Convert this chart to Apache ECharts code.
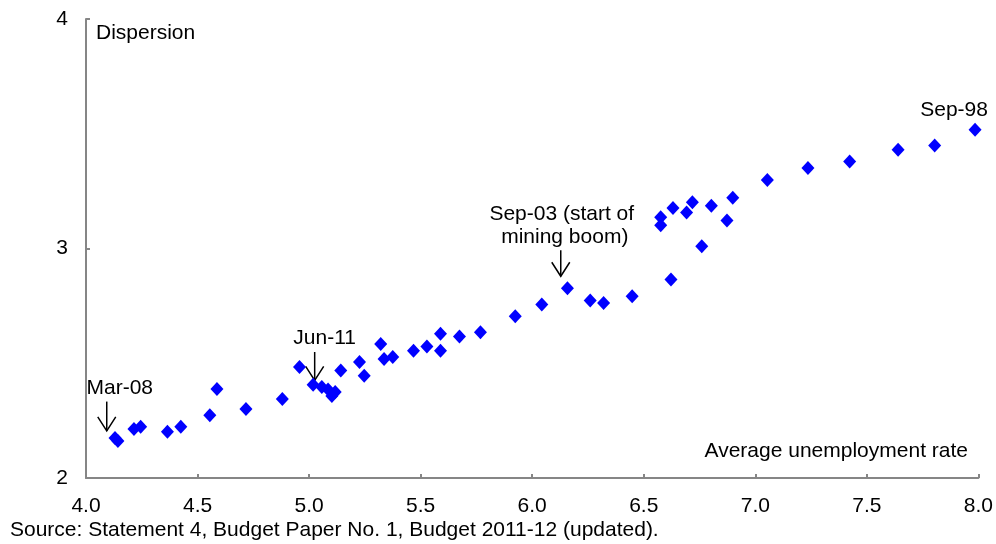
<!DOCTYPE html>
<html>
<head>
<meta charset="utf-8">
<script src="https://cdn.jsdelivr.net/npm/echarts@6/dist/echarts.min.js"></script>
<style>
html,body{margin:0;padding:0;background:#fff;}
#chart{width:996px;height:544px;}
</style>
</head>
<body>
<div id="chart"></div>
<script>
// Average unemployment rate (x) vs dispersion (y)
var unemployment = [4.130,4.143,4.215,4.245,4.365,4.425,4.555,4.587,4.717,4.880,
  4.957,5.018,5.057,5.085,5.102,5.117,5.142,5.226,5.247,5.321,
  5.336,5.375,5.468,5.528,5.589,5.589,5.674,5.768,5.924,6.043,
  6.158,6.260,6.320,6.448,6.622,6.576,6.576,6.631,6.692,6.718,
  6.760,6.803,6.873,6.899,7.054,7.236,7.423,7.640,7.804,7.985];
var dispersion = [2.174,2.161,2.213,2.223,2.201,2.223,2.273,2.388,2.301,2.344,
  2.484,2.406,2.397,2.386,2.357,2.375,2.468,2.505,2.446,2.584,
  2.518,2.527,2.554,2.573,2.628,2.554,2.617,2.635,2.705,2.756,
  2.827,2.773,2.763,2.792,2.865,3.136,3.101,3.176,3.157,3.202,
  3.010,3.186,3.122,3.221,3.298,3.351,3.379,3.430,3.449,3.517];
var xTicks = ['4.0','4.5','5.0','5.5','6.0','6.5','7.0','7.5','8.0'];
var yTicks = ['2','3','4'];
// annotations: label lines, arrow tip (x, y) and arrow top y in data units
var annoText = [['Mar-08'], ['Jun-11'], ['Sep-03 (start of', 'mining boom)']];
var annoX = [4.093, 5.025, 6.128];
var annoTipY = [2.205, 2.425, 2.879];
var annoTopY = [2.333, 2.549, 2.992];
var endLabel = 'Sep-98';

var FONT = 'Liberation Sans, Arial, sans-serif';
var FS = 21;
var AXC = '#868686';
var points = unemployment.map(function (v, i) { return [v, dispersion[i]]; });

var chart = echarts.init(document.getElementById('chart'));
chart.setOption({
  animation: false,
  backgroundColor: '#fff',
  grid: { left: 86, right: 16, top: 19, bottom: 66, containLabel: false },
  xAxis: {
    type: 'value', min: 4, max: 8, interval: 0.5,
    axisLine: { show: true, lineStyle: { color: AXC, width: 2 } },
    axisTick: { show: true, inside: true, length: 4, lineStyle: { color: AXC, width: 2 } },
    splitLine: { show: false },
    axisLabel: {
      color: '#000', fontFamily: FONT, fontSize: FS, margin: 18,
      formatter: function (v) { var s = v.toFixed(1); return xTicks.indexOf(s) >= 0 ? s : ''; }
    }
  },
  yAxis: {
    type: 'value', min: 2, max: 4, interval: 1,
    axisLine: { show: true, lineStyle: { color: AXC, width: 2 } },
    axisTick: { show: true, inside: true, length: 4, lineStyle: { color: AXC, width: 2 } },
    splitLine: { show: false },
    axisLabel: {
      color: '#000', fontFamily: FONT, fontSize: FS, margin: 18,
      formatter: function (v) { var s = String(Math.round(v)); return yTicks.indexOf(s) >= 0 ? s : ''; }
    }
  },
  series: [{
    type: 'scatter',
    data: points,
    symbol: 'diamond',
    symbolSize: [13, 14],
    itemStyle: { color: '#0000ff', opacity: 1 },
    label: {
      show: true,
      formatter: function (p) { return p.dataIndex === points.length - 1 ? endLabel : ''; },
      position: 'top', distance: 2, offset: [-21, 0],
      color: '#000', fontFamily: FONT, fontSize: FS
    }
  }],
  graphic: []
});

function buildGraphics() {
  var textDx = [13, 10, 1];
  var g = [];
  g.push({ type: 'text', left: 96, top: 23, style: { text: 'Dispersion', font: FS + 'px ' + FONT, fill: '#000' } });
  g.push({ type: 'text', right: 28, top: 441, style: { text: 'Average unemployment rate', font: FS + 'px ' + FONT, fill: '#000' } });
  g.push({ type: 'text', left: 10, top: 520, style: { text: 'Source: Statement 4, Budget Paper No. 1, Budget 2011-12 (updated).', font: FS + 'px ' + FONT, fill: '#000' } });
  for (var i = 0; i < annoX.length; i++) {
    var tip = chart.convertToPixel({ gridIndex: 0 }, [annoX[i], annoTipY[i]]);
    var top = chart.convertToPixel({ gridIndex: 0 }, [annoX[i], annoTopY[i]]);
    var ls = { stroke: '#000', lineWidth: 1.5 };
    g.push({ type: 'line', shape: { x1: tip[0], y1: top[1], x2: tip[0], y2: tip[1] }, style: ls });
    g.push({ type: 'polyline', shape: { points: [[tip[0] - 9, tip[1] - 14], [tip[0], tip[1]], [tip[0] + 9, tip[1] - 14]] }, style: { stroke: '#000', lineWidth: 1.5, fill: null } });
    var lines = annoText[i];
    for (var k = 0; k < lines.length; k++) {
      var yy = top[1] - 3 - (lines.length - 1 - k) * 23;
      g.push({ type: 'text', x: tip[0] + textDx[i] + (k === 1 ? 3 : 0), y: yy,
        style: { text: lines[k], font: FS + 'px ' + FONT, fill: '#000', textAlign: 'center', textVerticalAlign: 'bottom' } });
    }
  }
  chart.setOption({ graphic: g });
}
buildGraphics();
</script>
</body>
</html>
